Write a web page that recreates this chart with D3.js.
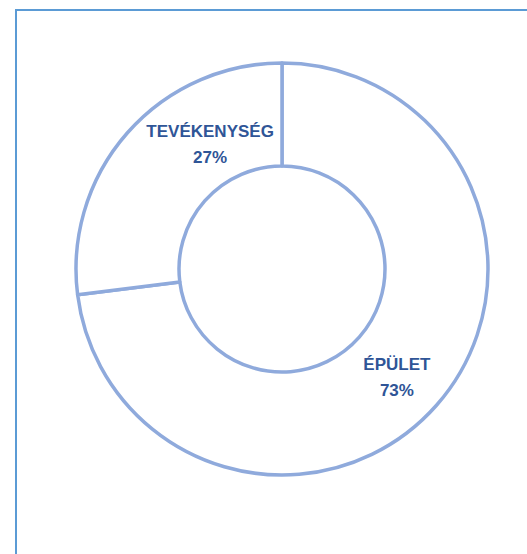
<!DOCTYPE html>
<html>
<head>
<meta charset="utf-8">
<script src="https://cdn.jsdelivr.net/npm/d3@7"></script>
<style>
  body { margin: 0; background: #fff; }
  svg { display: block; }
</style>
</head>
<body>
<div id="chart"></div>
<script>
var categories = ["ÉPÜLET", "TEVÉKENYSÉG"];
var values = [73, 27];
var valueLabels = ["73%", "27%"];
// small nudges from the slice centroid, as in the original layout
var labelNudge = [[-1, 6], [44, -23]];

var width = 527, height = 554;
var cx = 282, cy = 269;
var outerR = 206, innerR = 103;

var svg = d3.select('#chart').append('svg')
  .attr('width', width)
  .attr('height', height);

// chart area frame (runs off the right and bottom edges)
svg.append('rect')
  .attr('x', 16).attr('y', 10)
  .attr('width', 560).attr('height', 600)
  .attr('fill', '#fff')
  .attr('stroke', '#5B9BD5')
  .attr('stroke-width', 2);

var pie = d3.pie().sort(null).value(function (d) { return d; });
var arcs = pie(values);

var arc = d3.arc().innerRadius(innerR).outerRadius(outerR);

var g = svg.append('g').attr('transform', 'translate(' + cx + ',' + cy + ')');

g.selectAll('path')
  .data(arcs)
  .enter()
  .append('path')
  .attr('d', arc)
  .attr('fill', '#fff')
  .attr('stroke', '#8FAADC')
  .attr('stroke-width', 3.5)
  .attr('stroke-linejoin', 'round');

var labels = g.selectAll('text.lbl')
  .data(arcs)
  .enter()
  .append('text')
  .attr('class', 'lbl')
  .attr('text-anchor', 'middle')
  .attr('font-family', '"Liberation Sans", Arial, sans-serif')
  .attr('font-weight', 'bold')
  .attr('font-size', 17)
  .attr('fill', '#2F5597')
  .attr('transform', function (d, i) {
    var c = arc.centroid(d);
    return 'translate(' + (c[0] + labelNudge[i][0]) + ',' + (c[1] + labelNudge[i][1]) + ')';
  });

labels.append('tspan')
  .attr('x', 0).attr('y', -7)
  .text(function (d, i) { return categories[i]; });
labels.append('tspan')
  .attr('x', 0).attr('y', 19)
  .text(function (d, i) { return valueLabels[i]; });
</script>
</body>
</html>
